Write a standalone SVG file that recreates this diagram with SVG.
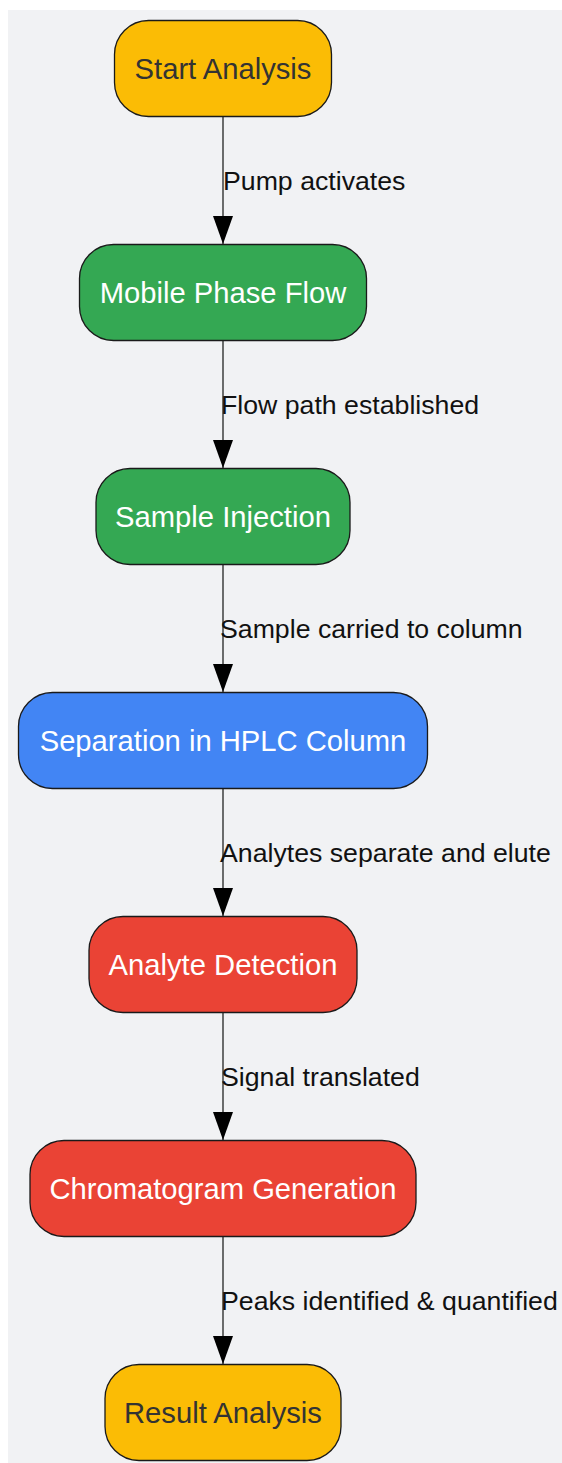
<svg xmlns="http://www.w3.org/2000/svg" width="562" height="1463" viewBox="0 0 562 1463">
<style>
.bg{fill:#f1f2f4}
.n rect{stroke:#1a1a1a;stroke-width:1.3}
.n text{font-family:"Liberation Sans",Arial,sans-serif;font-size:29.2px;text-anchor:middle}
.y rect{fill:#fbbc05}.y text{fill:#333333}
.g rect{fill:#34a853}.b rect{fill:#4285f4}.r rect{fill:#ea4335}
.g text,.b text,.r text{fill:#ffffff}
.e line{stroke:#222;stroke-width:1.3}
.e text{font-family:"Liberation Sans",Arial,sans-serif;font-size:26.7px;fill:#111}
</style>
<defs>
<marker id="ah" viewBox="0 0 28 20" refX="28" refY="10" markerWidth="28" markerHeight="20" markerUnits="userSpaceOnUse" orient="auto"><path d="M0,0 L28,10 L0,20 Z" fill="#000"/></marker>
</defs>
<rect class="bg" x="8" y="10" width="554" height="1453"/>
<g id="connectors" class="e">
<line x1="223" y1="117" x2="223" y2="244" marker-end="url(#ah)"/>
<line x1="223" y1="341" x2="223" y2="468" marker-end="url(#ah)"/>
<line x1="223" y1="565" x2="223" y2="692" marker-end="url(#ah)"/>
<line x1="223" y1="789" x2="223" y2="916" marker-end="url(#ah)"/>
<line x1="223" y1="1013" x2="223" y2="1140" marker-end="url(#ah)"/>
<line x1="223" y1="1237" x2="223" y2="1364" marker-end="url(#ah)"/>
<text x="223" y="190">Pump activates</text>
<text x="221" y="414">Flow path established</text>
<text x="220" y="638">Sample carried to column</text>
<text x="220" y="862">Analytes separate and elute</text>
<text x="221" y="1086">Signal translated</text>
<text x="221" y="1310">Peaks identified &amp; quantified</text>
</g>
<g id="start" class="n y"><rect x="114.5" y="20.5" width="217" height="96" rx="34"/><text x="223" y="79">Start Analysis</text></g>
<g id="mobile" class="n g"><rect x="79.5" y="244.5" width="287" height="96" rx="34"/><text x="223" y="303">Mobile Phase Flow</text></g>
<g id="injection" class="n g"><rect x="96" y="468.5" width="254" height="96" rx="34"/><text x="223" y="527">Sample Injection</text></g>
<g id="separation" class="n b"><rect x="18.5" y="692.5" width="409" height="96" rx="34"/><text x="223" y="751">Separation in HPLC Column</text></g>
<g id="detection" class="n r"><rect x="89" y="916.5" width="268" height="96" rx="34"/><text x="223" y="975">Analyte Detection</text></g>
<g id="chromatogram" class="n r"><rect x="30" y="1140.5" width="386" height="96" rx="34"/><text x="223" y="1199">Chromatogram Generation</text></g>
<g id="result" class="n y"><rect x="105" y="1364.5" width="236" height="96" rx="34"/><text x="223" y="1423">Result Analysis</text></g>
</svg>
